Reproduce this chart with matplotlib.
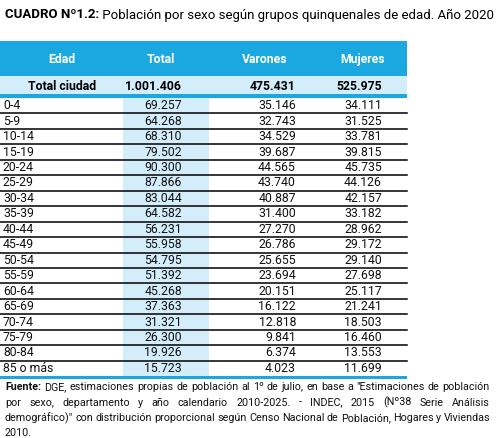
import matplotlib
matplotlib.use("Agg")
import matplotlib.pyplot as plt
from matplotlib.patches import Rectangle

# Table data
edades = ["0-4", "5-9", "10-14", "15-19", "20-24", "25-29", "30-34", "35-39",
          "40-44", "45-49", "50-54", "55-59", "60-64", "65-69", "70-74",
          "75-79", "80-84", "85 o más"]
total = ["69.257", "64.268", "68.310", "79.502", "90.300", "87.866", "83.044",
         "64.582", "56.231", "55.958", "54.795", "51.392", "45.268", "37.363",
         "31.321", "26.300", "19.926", "15.723"]
varones = ["35.146", "32.743", "34.529", "39.687", "44.565", "43.740", "40.887",
           "31.400", "27.270", "26.786", "25.655", "23.694", "20.151", "16.122",
           "12.818", "9.841", "6.374", "4.023"]
mujeres = ["34.111", "31.525", "33.781", "39.815", "45.735", "44.126", "42.157",
           "33.182", "28.962", "29.172", "29.140", "27.698", "25.117", "21.241",
           "18.503", "16.460", "13.553", "11.699"]
headers = ["Edad", "Total", "Varones", "Mujeres"]
total_row = ["Total ciudad", "1.001.406", "475.431", "525.975"]

titulo_bold = "CUADRO Nº1.2:"
titulo_rest = " Población por sexo según grupos quinquenales de edad. Año 2020"
fuente_lines = [
    ["Fuente:", "DGE,", "estimaciones", "propias", "de", "población", "al", "1º", "de",
     "julio,", "en", "base", "a", "\"Estimaciones", "de", "población"],
    "por sexo, departamento y año calendario 2010-2025. - INDEC, 2015 (Nº38 Serie Análisis".split(),
    "demográfico)\" con distribución proporcional según Censo Nacional de Población, Hogares y Viviendas".split(),
    ["2010."],
]

FONT = ["Roboto", "DejaVu Sans"]
plt.rcParams["font.family"] = FONT

BLUE = "#1ba8e0"
LIGHT = "#d3edfb"
INK = "#111111"
FS = 8.8

fig = plt.figure(figsize=(5.02, 4.38), dpi=100)
ax = fig.add_axes([0, 0, 1, 1])
ax.set_xlim(0, 502)
ax.set_ylim(438, 0)
ax.axis("off")

table_w = 407
top_head, bot_head = 41, 76
row0, row_h = 98, 15.45

# header band and total row
ax.add_patch(Rectangle((0, top_head), table_w, bot_head - top_head, color=BLUE, lw=0))
ax.add_patch(Rectangle((0, bot_head), table_w, 18, color=LIGHT, lw=0))
ax.add_patch(Rectangle((0, 94), table_w, 4, color=BLUE, lw=0))
# shaded Total column
n = len(edades)
ax.add_patch(Rectangle((123, row0), 86, n * row_h, color=LIGHT, lw=0))

head_x = [62, 161, 265, 363]
for x, h in zip(head_x, headers):
    ax.text(x, 59.5, h, color="white", fontsize=FS, fontweight="bold",
            ha="center", va="center")

ax.text(62, 86, total_row[0], fontsize=FS, fontweight="bold", ha="center", va="center")
ax.text(182, 86, total_row[1], fontsize=FS, fontweight="bold", ha="right", va="center")
ax.text(296, 86, total_row[2], fontsize=FS, fontweight="bold", ha="right", va="center")
ax.text(382, 86, total_row[3], fontsize=FS, fontweight="bold", ha="right", va="center")

for i in range(n):
    yc = row0 + (i + 0.5) * row_h
    ax.text(3, yc, edades[i], fontsize=FS, ha="left", va="center", color=INK)
    ax.text(182, yc, total[i], fontsize=FS, ha="right", va="center", color=INK)
    ax.text(296, yc, varones[i], fontsize=FS, ha="right", va="center", color=INK)
    ax.text(382, yc, mujeres[i], fontsize=FS, ha="right", va="center", color=INK)
    if i < n - 1:
        ax.plot([0, table_w], [row0 + (i + 1) * row_h] * 2, color="black", lw=1.1)
ax.add_patch(Rectangle((0, row0 + n * row_h), table_w, 3, color=BLUE, lw=0))

renderer = fig.canvas.get_renderer()


def width_px(t):
    return t.get_window_extent(renderer=renderer).width


# title, sized to span the same width as the reference
t1 = ax.text(5, 15, titulo_bold, fontsize=10, fontweight="bold", ha="left", va="center")
t2 = ax.text(5, 15, titulo_rest, fontsize=10, ha="left", va="center")
scale = (493 - 5) / (width_px(t1) + width_px(t2))
t1.set_fontsize(10 * scale)
t2.set_fontsize(10 * scale)
t2.set_x(5 + width_px(t1))

# justified source note
left, right = 5, 490
ys = [387, 402.5, 418, 433]
fs = 8.3
all_objs = []
for k, words in enumerate(fuente_lines):
    objs = []
    for j, w in enumerate(words):
        bold = (k == 0 and j == 0)
        objs.append(ax.text(0, ys[k], w, fontsize=fs, ha="left", va="center",
                            fontweight="bold" if bold else "normal", color=INK))
    all_objs.append(objs)

# shrink font until the longest line fits with a minimal word gap
need = max(sum(width_px(o) for o in objs) + 2.5 * (len(objs) - 1) for objs in all_objs)
if need > right - left:
    fs = fs * (right - left) / need * 0.99
    for objs in all_objs:
        for o in objs:
            o.set_fontsize(fs)

for k, objs in enumerate(all_objs):
    widths = [width_px(o) for o in objs]
    if len(objs) > 1 and k < len(all_objs) - 1:
        gap = (right - left - sum(widths)) / (len(objs) - 1)
    else:
        gap = 3
    x = left
    for o, w in zip(objs, widths):
        o.set_x(x)
        x += w + gap

fig.savefig("out.png", dpi=100)
